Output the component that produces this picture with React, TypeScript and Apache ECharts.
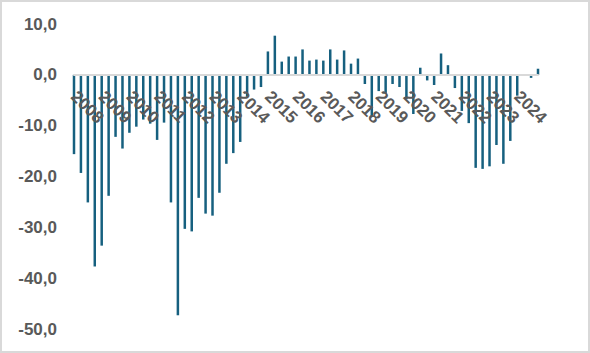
import React, { useEffect, useRef } from "react";
import * as echarts from "echarts";

const years = ["2008","2009","2010","2011","2012","2013","2014","2015","2016","2017","2018","2019","2020","2021","2022","2023","2024"];
const quarters = ["Q1","Q2","Q3","Q4"];
const values = [
  -15.6, -19.3, -25.1, -37.7,
  -33.6, -23.8, -12.2, -14.5,
  -11.4, -10.2, -8.8, -9.6,
  -12.8, -9.4, -25.1, -47.3,
  -30.3, -30.8, -24.2, -27.3,
  -27.7, -23.2, -17.5, -15.4,
  -13.2, -4.3, -2.9, -2.4,
  4.6, 7.7, 2.6, 3.6,
  3.6, 5.0, 2.8, 3.0,
  2.8, 5.0, 3.0, 4.8,
  2.2, 3.2, -1.8, -8.1,
  -3.2, -3.7, -1.8, -2.4,
  -4.8, -7.7, 1.4, -1.1,
  -2.0, 4.2, 1.9, -2.6,
  -7.1, -9.5, -18.3, -18.5,
  -18.0, -13.8, -17.5, -13.0,
  -4.1, 0, -0.6, 1.2,
];
const yTicks = { min: -50, max: 10, interval: 10 };

const categories: string[] = [];
years.forEach((y) => quarters.forEach((q) => categories.push(y + q)));

const GRID_TOP = 24;
const GRID_HEIGHT = 305;

export default function App() {
  const ref = useRef<HTMLDivElement>(null);
  useEffect(() => {
    document.body.style.margin = "0";
    const chart = echarts.init(ref.current!, null, { renderer: "svg" });
    const zeroFromBottom = GRID_HEIGHT * (0 - yTicks.min) / (yTicks.max - yTicks.min);
    chart.setOption({
      animation: false,
      graphic: [
        {
          type: "rect",
          shape: { x: 1, y: 1, width: 588, height: 351 },
          style: { fill: "none", stroke: "#d9d9d9", lineWidth: 2 },
          z: 100,
        },
      ],
      grid: {
        left: 74,
        right: 52,
        top: GRID_TOP,
        height: GRID_HEIGHT,
        containLabel: false,
        outerBoundsMode: "none",
      },
      xAxis: {
        type: "category",
        data: categories,
        boundaryGap: false,
        z: 10,
        offset: -zeroFromBottom,
        axisLine: { onZero: false, lineStyle: { color: "#d9d9d9", width: 2 } },
        axisTick: { show: false },
        splitLine: { show: false },
        axisLabel: {
          interval: 0,
          rotate: -45,
          margin: 19,
          fontSize: 17,
          fontWeight: "bold",
          fontFamily: "Liberation Sans, Arial, sans-serif",
          color: "#595959",
          formatter: (v: string) => (v.endsWith("Q1") ? v.slice(0, 4) : ""),
        },
      },
      yAxis: {
        type: "value",
        min: yTicks.min,
        max: yTicks.max,
        interval: yTicks.interval,
        axisLine: { show: false },
        axisTick: { show: false },
        splitLine: { show: false },
        axisLabel: {
          margin: 17,
          fontSize: 17,
          fontWeight: "bold",
          fontFamily: "Liberation Sans, Arial, sans-serif",
          color: "#595959",
          formatter: (v: number) => v.toFixed(1).replace(".", ","),
        },
      },
      series: [
        {
          type: "bar",
          data: values,
          barWidth: 2.5,
          itemStyle: { color: "#16607f" },
        },
      ],
    });
    return () => chart.dispose();
  }, []);
  return <div ref={ref} style={{ width: 590, height: 353 }} />;
}
